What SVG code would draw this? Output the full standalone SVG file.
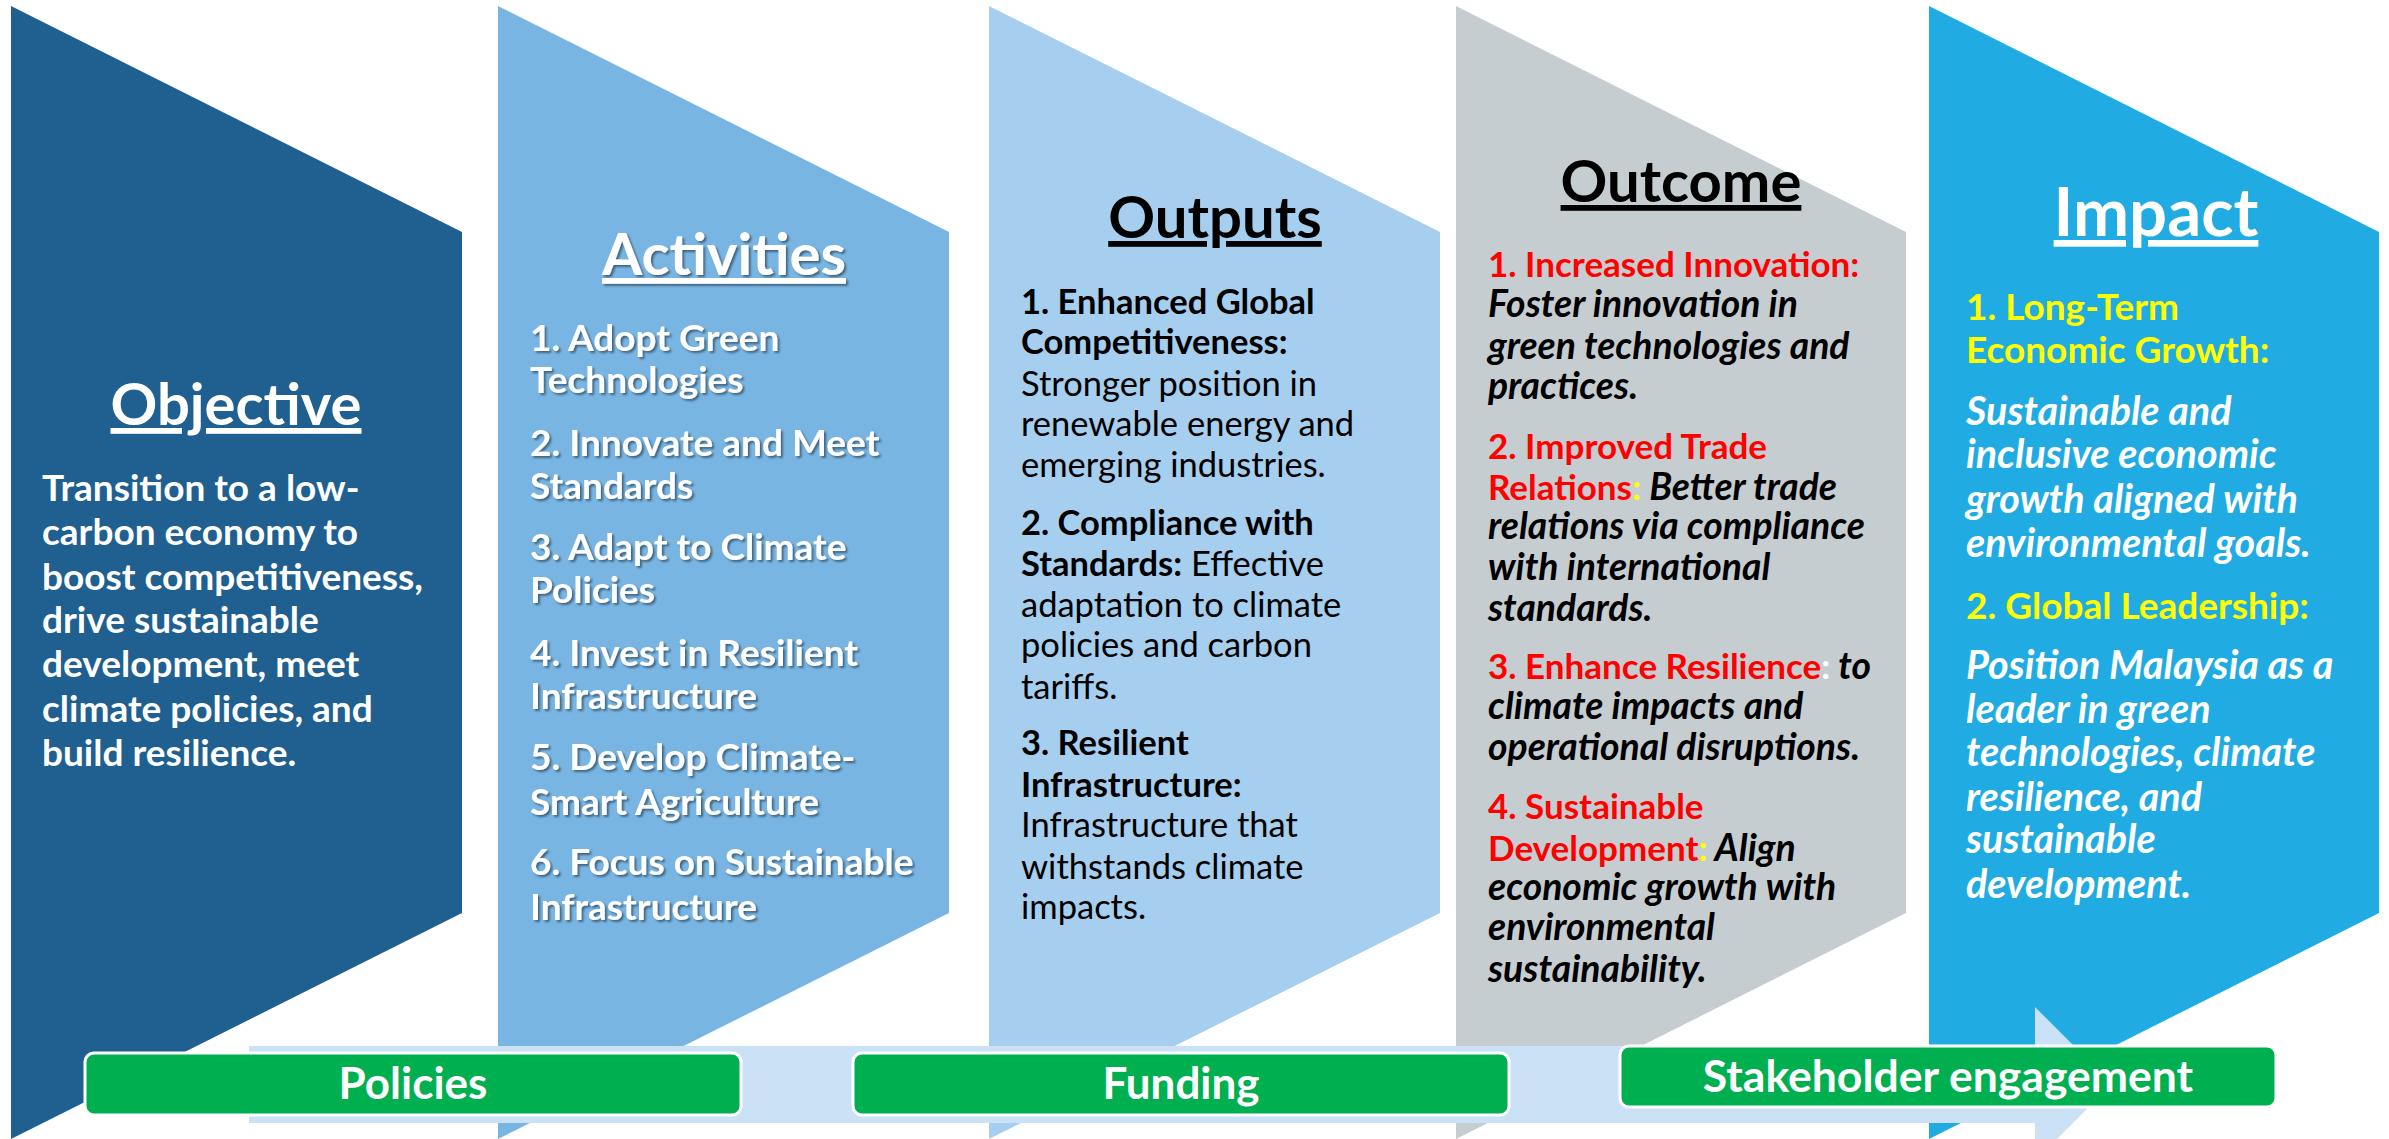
<svg xmlns="http://www.w3.org/2000/svg" width="2389" height="1139" viewBox="0 0 2389 1139">
  <style>
    text { font-family: Lato, "Liberation Sans", sans-serif; font-weight: 700; }
    .head { font-size: 58px; text-anchor: middle; text-decoration: underline; }
    .body40 { font-size: 37px; }
    .body37 { font-size: 34.5px; }
    .white { fill: #FFFFFF; }
    .black { fill: #000000; }
    .red { fill: #FF0000; }
    .yellow { fill: #FFFF00; }
    .reg { font-weight: 400; }
    .it { font-style: italic; }
    .out-it { font-size: 37.3px; }
    .imp-it { font-size: 39.5px; }
    .label { font-size: 44px; fill: #FFFFFF; text-anchor: middle; }
    .pill { fill: #00AF50; stroke: #FFFFFF; stroke-width: 3; }
  </style>
  <defs>
    <filter id="softShadow" x="-5%" y="-5%" width="110%" height="120%">
      <feDropShadow dx="2" dy="2" stdDeviation="1.2" flood-color="#000000" flood-opacity="0.45"/>
    </filter>
  </defs>

  <rect width="2389" height="1139" fill="#FFFFFF"/>

  <!-- Objective -->
  <g id="objective">
    <polygon points="11,6 462,232 462,913 11,1139" fill="#1F6091"/>
    <text class="head white" x="236" y="425">Objective</text>
    <text class="body40 white">
      <tspan x="42" y="501">Transition to a low-</tspan>
      <tspan x="42" y="545">carbon economy to</tspan>
      <tspan x="42" y="590">boost competitiveness,</tspan>
      <tspan x="42" y="633">drive sustainable</tspan>
      <tspan x="42" y="677">development, meet</tspan>
      <tspan x="42" y="722">climate policies, and</tspan>
      <tspan x="42" y="766">build resilience.</tspan>
    </text>
  </g>

  <!-- Activities -->
  <g id="activities">
    <polygon points="498,6 949,232 949,913 498,1139" fill="#78B5E3"/>
    <g filter="url(#softShadow)">
      <text class="head white" x="724" y="275">Activities</text>
      <text class="body40 white">
        <tspan x="530" y="351">1. Adopt Green</tspan>
        <tspan x="530" y="393">Technologies</tspan>
        <tspan x="530" y="456">2. Innovate and Meet</tspan>
        <tspan x="530" y="499">Standards</tspan>
        <tspan x="530" y="560">3. Adapt to Climate</tspan>
        <tspan x="530" y="603">Policies</tspan>
        <tspan x="530" y="666">4.  Invest in Resilient</tspan>
        <tspan x="530" y="709">Infrastructure</tspan>
        <tspan x="530" y="770">5. Develop Climate-</tspan>
        <tspan x="530" y="815">Smart Agriculture</tspan>
        <tspan x="530" y="875">6. Focus on Sustainable</tspan>
        <tspan x="530" y="920">Infrastructure</tspan>
      </text>
    </g>
  </g>

  <!-- Outputs -->
  <g id="outputs">
    <polygon points="989,6 1440,232 1440,913 989,1139" fill="#A6CEEE"/>
    <text class="head black" x="1215" y="238">Outputs</text>
    <text class="body37 black">
      <tspan x="1021" y="314">1. Enhanced Global</tspan>
      <tspan x="1021" y="354">Competitiveness:</tspan>
      <tspan x="1021" y="396" class="reg">Stronger position in</tspan>
      <tspan x="1021" y="436" class="reg">renewable energy and</tspan>
      <tspan x="1021" y="477" class="reg">emerging industries.</tspan>
      <tspan x="1021" y="535">2. Compliance with</tspan>
      <tspan x="1021" y="576">Standards:<tspan class="reg"> Effective</tspan></tspan>
      <tspan x="1021" y="617" class="reg">adaptation to climate</tspan>
      <tspan x="1021" y="657" class="reg">policies and carbon</tspan>
      <tspan x="1021" y="699" class="reg">tariffs.</tspan>
      <tspan x="1021" y="755">3. Resilient</tspan>
      <tspan x="1021" y="797">Infrastructure:</tspan>
      <tspan x="1021" y="837" class="reg">Infrastructure that</tspan>
      <tspan x="1021" y="879" class="reg">withstands climate</tspan>
      <tspan x="1021" y="919" class="reg">impacts.</tspan>
    </text>
  </g>

  <!-- Outcome -->
  <g id="outcome">
    <polygon points="1456,6 1906,232 1906,913 1456,1139" fill="#C5CDD1"/>
    <text class="head black" x="1681" y="202">Outcome</text>
    <text style="font-size:35px">
      <tspan x="1488" y="277" class="red">1. Increased Innovation:</tspan>
      <tspan x="1488" y="317" class="black it out-it">Foster innovation in</tspan>
      <tspan x="1488" y="359" class="black it out-it">green technologies and</tspan>
      <tspan x="1488" y="399" class="black it out-it">practices.</tspan>
      <tspan x="1488" y="459" class="red">2. Improved Trade</tspan>
      <tspan x="1488" y="500" class="red">Relations<tspan class="yellow">:</tspan><tspan class="black it out-it"> Better trade</tspan></tspan>
      <tspan x="1488" y="539" class="black it out-it">relations via compliance</tspan>
      <tspan x="1488" y="580" class="black it out-it">with international</tspan>
      <tspan x="1488" y="621" class="black it out-it">standards.</tspan>
      <tspan x="1488" y="679" class="red">3. Enhance Resilience<tspan class="white">:</tspan><tspan class="black it out-it"> to</tspan></tspan>
      <tspan x="1488" y="719" class="black it out-it">climate impacts and</tspan>
      <tspan x="1488" y="760" class="black it out-it">operational disruptions.</tspan>
      <tspan x="1488" y="819" class="red">4. Sustainable</tspan>
      <tspan x="1488" y="861" class="red">Development<tspan class="yellow">:</tspan><tspan class="black it out-it"> Align</tspan></tspan>
      <tspan x="1488" y="900" class="black it out-it">economic growth with</tspan>
      <tspan x="1488" y="940" class="black it out-it">environmental</tspan>
      <tspan x="1488" y="982" class="black it out-it">sustainability.</tspan>
    </text>
  </g>

  <!-- Impact -->
  <g id="impact">
    <polygon points="1929,6 2379,232 2379,913 1929,1139" fill="#20ACE3"/>
    <text class="head white" x="2156" y="236" style="font-size:67px">Impact</text>
    <text class="body40">
      <tspan x="1966" y="320" class="yellow">1. Long-Term</tspan>
      <tspan x="1966" y="363" class="yellow">Economic Growth:</tspan>
      <tspan x="1966" y="425" class="white it imp-it">Sustainable and</tspan>
      <tspan x="1966" y="468" class="white it imp-it">inclusive economic</tspan>
      <tspan x="1966" y="513" class="white it imp-it">growth aligned with</tspan>
      <tspan x="1966" y="557" class="white it imp-it">environmental goals.</tspan>
      <tspan x="1966" y="619" class="yellow">2. Global Leadership:</tspan>
      <tspan x="1966" y="679" class="white it imp-it">Position Malaysia as a</tspan>
      <tspan x="1966" y="723" class="white it imp-it">leader in green</tspan>
      <tspan x="1966" y="766" class="white it imp-it">technologies, climate</tspan>
      <tspan x="1966" y="811" class="white it imp-it">resilience, and</tspan>
      <tspan x="1966" y="853" class="white it imp-it">sustainable</tspan>
      <tspan x="1966" y="898" class="white it imp-it">development.</tspan>
    </text>
  </g>

  <!-- Flow arrow running under the enablers -->
  <g id="connectors">
    <path d="M249,1046 H2035 V1007 L2112,1084 L2035,1161 V1123 H249 Z" fill="#CBE1F5"/>
  </g>

  <!-- Enablers -->
  <g id="policies">
    <rect class="pill" x="85" y="1053" width="656" height="62" rx="9"/>
    <text class="label" x="413" y="1099">Policies</text>
  </g>
  <g id="funding">
    <rect class="pill" x="853" y="1053" width="656" height="62" rx="9"/>
    <text class="label" x="1181" y="1099">Funding</text>
  </g>
  <g id="stakeholder-engagement">
    <rect class="pill" x="1620" y="1046" width="656" height="61" rx="9"/>
    <text class="label" x="1948" y="1092" style="font-size:44.5px">Stakeholder engagement</text>
  </g>
</svg>
